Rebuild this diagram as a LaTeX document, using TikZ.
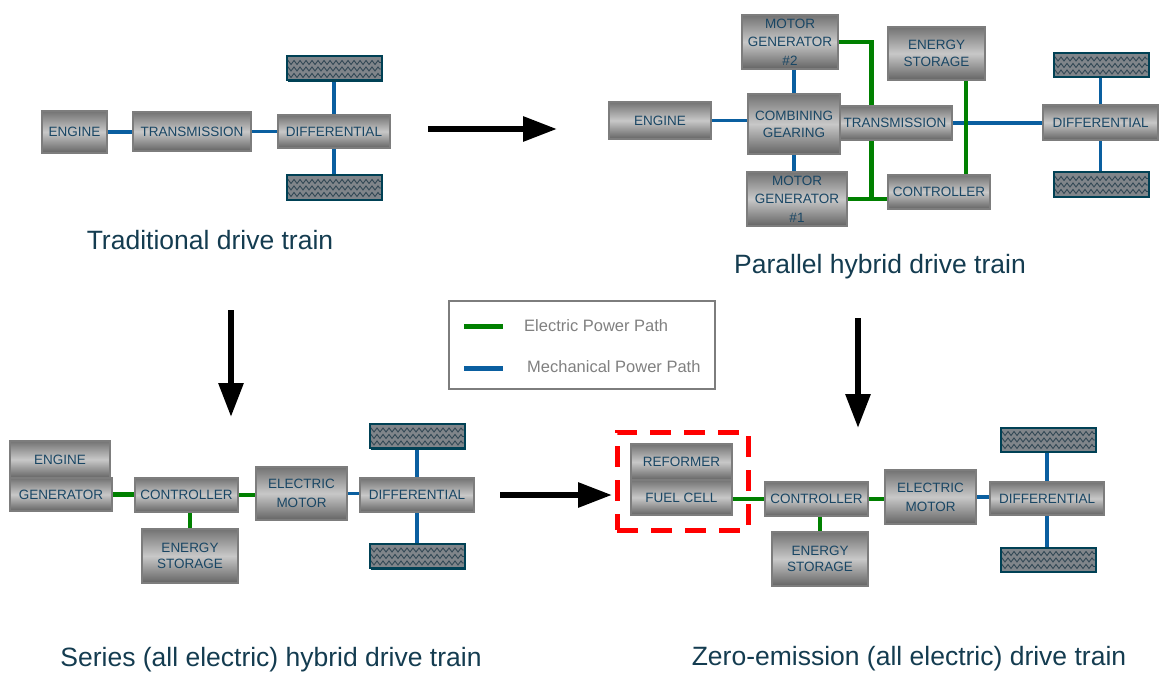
\documentclass[tikz,border=0pt]{standalone}
\usepackage{fontspec}
\setmainfont{Liberation Sans}
\usetikzlibrary{arrows.meta,decorations.pathmorphing,shadows,calc}
\definecolor{boxtext}{RGB}{25,70,100}
\definecolor{boxborder}{RGB}{125,125,125}
\definecolor{shadeD}{RGB}{115,115,115}
\definecolor{shadeD2}{RGB}{100,100,100}
\definecolor{shadeL}{RGB}{200,200,200}
\definecolor{wheelborder}{RGB}{0,65,85}
\definecolor{wheelfill}{RGB}{128,133,138}
\definecolor{wavecol}{RGB}{50,72,85}
\definecolor{mechblue}{RGB}{10,95,160}
\definecolor{elecgreen}{RGB}{0,128,0}
\definecolor{labelcol}{RGB}{20,60,80}
\definecolor{legendtext}{RGB}{128,128,128}
\pgfdeclarelayer{bg}
\pgfsetlayers{bg,main}
\tikzset{
  box/.style={draw=boxborder, line width=1.6pt, top color=shadeD, bottom color=shadeD2, middle color=shadeL,
    inner sep=0pt, align=center, text=boxtext, font=\fontsize{13.5}{17}\selectfont},
  bx/.style 2 args={box, minimum width=#1pt, minimum height=#2pt},
  wheel/.style={draw=wheelborder, line width=2pt, fill=wheelfill, minimum width=95pt, minimum height=24pt, inner sep=0pt,
    general shadow={fill=wheelborder, shadow xshift=1.5pt, shadow yshift=-1.5pt},
    path picture={
      \foreach \k in {0.25,0.52,0.79}{
        \draw[wavecol, line width=0.9pt, decorate, decoration={zigzag, segment length=6pt, amplitude=2pt}]
          ($(path picture bounding box.north west)!\k!(path picture bounding box.south west)$) --
          ($(path picture bounding box.north east)!\k!(path picture bounding box.south east)$);
      }
    }},
  mech/.style={draw=mechblue, line width=3.5pt},
  elec/.style={draw=elecgreen, line width=4.5pt},
  bigarrow/.style={draw=black, line width=6pt, -{Triangle[length=34pt,width=24pt]}},
  caption/.style={anchor=base, text=labelcol, font=\fontsize{26.5}{31}\selectfont},
  legtext/.style={anchor=base west, inner sep=0pt, text=legendtext, font=\fontsize{16.5}{19}\selectfont}
}
\begin{document}
\begin{tikzpicture}[x=1pt,y=-1pt]
\useasboundingbox (0,0) rectangle (1165,674);

% ---------- Traditional ----------
\node[bx={65}{42}] (te) at (74.5,132) {ENGINE};
\node[bx={118}{39}] (tt) at (192,131.5) {TRANSMISSION};
\node[bx={112}{33}] (td) at (334,131.5) {DIFFERENTIAL};
\node[wheel] (tw1) at (334,68.5) {};
\node[wheel] (tw2) at (334,187.5) {};
\node[caption] at (210,249) {Traditional drive train};

% ---------- Parallel ----------
\node[bx={102}{37}] (pe) at (660,120.5) {ENGINE};
\node[bx={114}{34}] (ptr) at (895,123) {TRANSMISSION};
\node[bx={92}{60}] (pcg) at (794,124) {COMBINING\\GEARING};
\node[bx={96}{54}, font=\fontsize{13.5}{18.5}\selectfont] (mg2) at (790,42) {MOTOR\\GENERATOR\\\#2};
\node[bx={100}{54}, font=\fontsize{13.5}{18.5}\selectfont] (mg1) at (797,199) {MOTOR\\GENERATOR\\\#1};
\node[bx={97}{53}] (pes) at (936.5,53.5) {ENERGY\\STORAGE};
\node[bx={102}{34}] (pctl) at (939,192) {CONTROLLER};
\node[bx={115}{35}] (pd) at (1100.5,122.5) {DIFFERENTIAL};
\node[wheel] (pw1) at (1101,65) {};
\node[wheel] (pw2) at (1101,184.5) {};
\node[caption] at (880,273) {Parallel hybrid drive train};

% ---------- Series ----------
\node[bx={100}{37}] (se) at (60,459.5) {ENGINE};
\node[bx={102}{33}] (sg) at (61,494.5) {GENERATOR};
\node[bx={103}{34}] (sc) at (186.5,495) {CONTROLLER};
\node[bx={96}{54}, font=\fontsize{13.5}{16}\selectfont] (ses) at (190,556) {ENERGY\\STORAGE};
\node[bx={91}{53}, font=\fontsize{13.5}{19}\selectfont] (sm) at (301.5,493.5) {ELECTRIC\\MOTOR};
\node[bx={114}{34}] (sd) at (417,495) {DIFFERENTIAL};
\node[wheel] (sw1) at (417,436) {};
\node[wheel] (sw2) at (417,556) {};
\node[caption] at (271,666) {Series (all electric) hybrid drive train};

% ---------- Zero emission ----------
\node[bx={101}{36}] (zr) at (681.5,462) {REFORMER};
\node[bx={101}{35}] (zf) at (681.5,497.5) {FUEL CELL};
\node[bx={103}{34}] (zc) at (816.5,499) {CONTROLLER};
\node[bx={96}{54}, font=\fontsize{13.5}{16}\selectfont] (zes) at (820,559) {ENERGY\\STORAGE};
\node[bx={91}{54}, font=\fontsize{13.5}{19}\selectfont] (zm) at (930.5,497) {ELECTRIC\\MOTOR};
\node[bx={114}{33}] (zd) at (1047,498.5) {DIFFERENTIAL};
\node[wheel] (zw1) at (1048,439.5) {};
\node[wheel] (zw2) at (1048,559.5) {};
\node[draw=red, line width=5pt, dash pattern=on 21pt off 13pt, minimum width=131pt, minimum height=98pt, inner sep=0pt] (fcbox) at (682.5,481) {};
\node[caption] at (909,665) {Zero-emission (all electric) drive train};

% ---------- Legend ----------
\node[draw=boxborder, line width=2pt, minimum width=266pt, minimum height=88pt, inner sep=0pt] (legend) at (582,345) {};
\coordinate (lg1) at (464,326);
\coordinate (lg2) at (503,326);
\coordinate (lb1) at (464,368);
\coordinate (lb2) at (503,368);
\draw[elec, line width=5pt] (lg1) -- (lg2);
\draw[mech, line width=5pt] (lb1) -- (lb2);
\node[legtext] (lgt) at (524,331) {Electric Power Path};
\node[legtext] (lbt) at (527,372) {Mechanical Power Path};

% ---------- Big arrows ----------
\coordinate (a1s) at (428,129);
\coordinate (a1e) at (557,129);
\coordinate (a2s) at (231,310);
\coordinate (a2e) at (231,417);
\coordinate (a3s) at (858,318);
\coordinate (a3e) at (858,428);
\coordinate (a4s) at (500,495);
\coordinate (a4e) at (612,495);
\draw[bigarrow] (a1s) -- (a1e);
\draw[bigarrow] (a2s) -- (a2e);
\draw[bigarrow] (a3s) -- (a3e);
\draw[bigarrow] (a4s) -- (a4e);

% ---------- Connectors (behind boxes) ----------
\begin{pgfonlayer}{bg}
  % traditional
  \draw[mech] (te) -- (te -| tt);
  \draw[mech] (tt) -- (tt -| td);
  \draw[mech] (td) -- (td |- tw1);
  \draw[mech] (td) -- (td |- tw2);
  % parallel
  \draw[mech] (pe) -- (pe -| pcg);
  \draw[mech] (pcg) -- (pcg |- mg2);
  \draw[mech] (pcg) -- (pcg |- mg1);
  \draw[mech] (ptr) -- (ptr -| pd);
  \draw[mech] (pd) -- (pd |- pw1);
  \draw[mech] (pd) -- (pd |- pw2);
  \coordinate (pj) at ($(mg1.east)!0.6!(mg1.east -| pctl.west)$);
  \draw[elec] (mg2.east) -| (pj);
  \draw[elec] (mg1.east) -- (mg1.east -| pctl.west);
  \coordinate (pesx) at ($(pes.south east)+(-20,0)$);
  \draw[elec] (pesx) -- (pesx |- pctl.north);
  % series
  \draw[elec] (sg) -- (sg -| sc);
  \draw[elec] (sc) -- (sc -| sm);
  \draw[elec] (ses) -- (ses |- sc);
  \draw[mech] (sm) -- (sm -| sd);
  \draw[mech] (sd) -- (sd |- sw1);
  \draw[mech] (sd) -- (sd |- sw2);
  % zero emission
  \draw[elec] (zc) -- (zc -| zf);
  \draw[elec] (zc) -- (zc -| zm);
  \draw[elec] (zes) -- (zes |- zc);
  \draw[mech] (zm) -- (zm -| zd);
  \draw[mech] (zd) -- (zd |- zw1);
  \draw[mech] (zd) -- (zd |- zw2);
\end{pgfonlayer}
\end{tikzpicture}
\end{document}
